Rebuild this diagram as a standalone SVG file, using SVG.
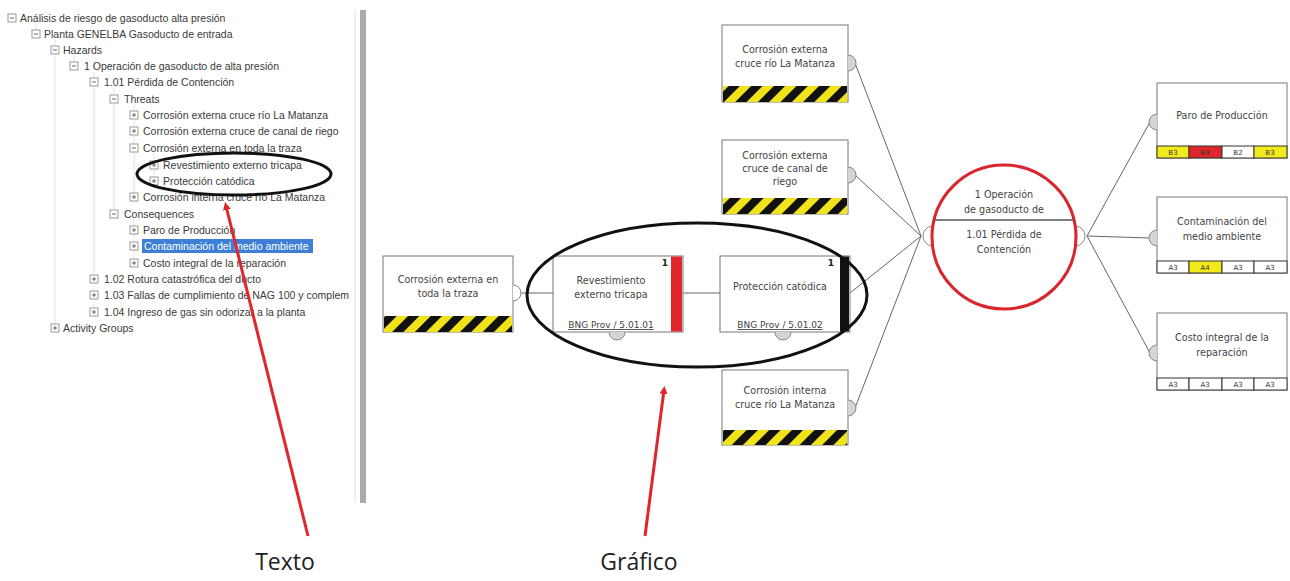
<svg xmlns="http://www.w3.org/2000/svg" width="1290" height="581" viewBox="0 0 1290 581">
<defs>
<pattern id="haz" width="16" height="16" patternUnits="userSpaceOnUse" patternTransform="rotate(45)">
<rect width="16" height="16" fill="#f0e31a"/>
<rect width="8" height="16" fill="#111"/>
</pattern>
<marker id="arr" markerWidth="8" markerHeight="8" refX="4" refY="4" orient="auto" markerUnits="userSpaceOnUse">
<path d="M0,0 L8,4 L0,8 z" fill="#e0262b"/>
</marker>
<style>
.tr{font-family:"Liberation Sans",Arial,sans-serif;font-size:10.5px;fill:#3a3a3a}
.ic{fill:#fff;stroke:#999;stroke-width:1}
.icl{stroke:#666;stroke-width:1}
.tl{stroke:#ccc;stroke-width:1;stroke-dasharray:1,1}
.box{fill:#fff;stroke:#777;stroke-width:1}
.bt{font-family:"DejaVu Sans",Verdana,sans-serif;font-size:9.6px;fill:#444;text-anchor:middle}
.ref{font-family:"DejaVu Sans",Verdana,sans-serif;font-size:9px;fill:#444;text-anchor:middle;text-decoration:underline}
.num{font-family:"DejaVu Sans",Verdana,sans-serif;font-size:9px;font-weight:bold;fill:#222;text-anchor:middle}
.con{stroke:#666;stroke-width:1;fill:none}
.sc{fill:#d4d4d4;stroke:#888;stroke-width:1}
.scw{fill:#fff;stroke:#888;stroke-width:1}
.cell{stroke:#333;stroke-width:1}
.ct{font-family:"DejaVu Sans",Verdana,sans-serif;font-size:7px;fill:#333;text-anchor:middle}
.mark{fill:none;stroke:#111;stroke-width:3}
.red{stroke:#e0262b;stroke-width:3;fill:none}
.lbl{font-family:"Open Sans","Noto Sans",sans-serif;font-size:23px;fill:#222;text-anchor:middle}
</style>
</defs>
<rect width="1290" height="581" fill="#fff"/>

<!-- tree panel -->
<g id="tree">
<rect x="360" y="10" width="6" height="493" fill="#aaa"/>
<line class="tl" x1="36" y1="24" x2="36" y2="34"/>
<line class="tl" x1="55" y1="40" x2="55" y2="328"/>
<line class="tl" x1="74" y1="56" x2="74" y2="66"/>
<line class="tl" x1="94" y1="72" x2="94" y2="312"/>
<line class="tl" x1="114" y1="88" x2="114" y2="214"/>
<line class="tl" x1="134" y1="104" x2="134" y2="197"/>
<line class="tl" x1="154" y1="154" x2="154" y2="181"/>
<line class="tl" x1="134" y1="220" x2="134" y2="263"/>

<rect class="ic" x="8" y="14" width="8" height="8"/><line class="icl" x1="10" y1="18" x2="14" y2="18"/>
<text class="tr" x="20" y="22">Análisis de riesgo de gasoducto alta presión</text>
<rect class="ic" x="32" y="30" width="8" height="8"/><line class="icl" x1="34" y1="34" x2="38" y2="34"/>
<text class="tr" x="44" y="38">Planta GENELBA Gasoducto de entrada</text>
<rect class="ic" x="51" y="46" width="8" height="8"/><line class="icl" x1="53" y1="50" x2="57" y2="50"/>
<text class="tr" x="63" y="54">Hazards</text>
<rect class="ic" x="70" y="62" width="8" height="8"/><line class="icl" x1="72" y1="66" x2="76" y2="66"/>
<text class="tr" x="84" y="70">1  Operación de gasoducto de alta presión</text>
<rect class="ic" x="90" y="78" width="8" height="8"/><line class="icl" x1="92" y1="82" x2="96" y2="82"/>
<text class="tr" x="104" y="86">1.01  Pérdida de Contención</text>
<rect class="ic" x="110" y="95" width="8" height="8"/><line class="icl" x1="112" y1="99" x2="116" y2="99"/>
<text class="tr" x="124" y="103">Threats</text>
<rect class="ic" x="130" y="111" width="8" height="8"/><line class="icl" x1="132" y1="115" x2="136" y2="115"/><line class="icl" x1="134" y1="113" x2="134" y2="117"/>
<text class="tr" x="143" y="119">Corrosión externa cruce río La Matanza</text>
<rect class="ic" x="130" y="127" width="8" height="8"/><line class="icl" x1="132" y1="131" x2="136" y2="131"/><line class="icl" x1="134" y1="129" x2="134" y2="133"/>
<text class="tr" x="143" y="135">Corrosión externa cruce de canal de riego</text>
<rect class="ic" x="130" y="144" width="8" height="8"/><line class="icl" x1="132" y1="148" x2="136" y2="148"/>
<text class="tr" x="143" y="152">Corrosión externa en toda la traza</text>
<rect class="ic" x="150" y="161" width="8" height="8"/><line class="icl" x1="152" y1="165" x2="156" y2="165"/><line class="icl" x1="154" y1="163" x2="154" y2="167"/>
<text class="tr" x="163" y="169">Revestimiento externo tricapa</text>
<rect class="ic" x="150" y="177" width="8" height="8"/><line class="icl" x1="152" y1="181" x2="156" y2="181"/><line class="icl" x1="154" y1="179" x2="154" y2="183"/>
<text class="tr" x="163" y="185">Protección catódica</text>
<rect class="ic" x="130" y="193" width="8" height="8"/><line class="icl" x1="132" y1="197" x2="136" y2="197"/><line class="icl" x1="134" y1="195" x2="134" y2="199"/>
<text class="tr" x="143" y="201">Corrosión interna cruce río La Matanza</text>
<rect class="ic" x="110" y="210" width="8" height="8"/><line class="icl" x1="112" y1="214" x2="116" y2="214"/>
<text class="tr" x="124" y="218">Consequences</text>
<rect class="ic" x="130" y="226" width="8" height="8"/><line class="icl" x1="132" y1="230" x2="136" y2="230"/><line class="icl" x1="134" y1="228" x2="134" y2="232"/>
<text class="tr" x="143" y="234">Paro de Producción</text>
<rect class="ic" x="130" y="242" width="8" height="8"/><line class="icl" x1="132" y1="246" x2="136" y2="246"/><line class="icl" x1="134" y1="244" x2="134" y2="248"/>
<rect x="142" y="239" width="171" height="14" fill="#3d7fd6"/>
<text class="tr" x="144" y="250" style="fill:#fff">Contaminación del medio ambiente</text>
<rect class="ic" x="130" y="259" width="8" height="8"/><line class="icl" x1="132" y1="263" x2="136" y2="263"/><line class="icl" x1="134" y1="261" x2="134" y2="265"/>
<text class="tr" x="143" y="267">Costo integral de la reparación</text>
<rect class="ic" x="90" y="275" width="8" height="8"/><line class="icl" x1="92" y1="279" x2="96" y2="279"/><line class="icl" x1="94" y1="277" x2="94" y2="281"/>
<text class="tr" x="104" y="283">1.02  Rotura catastrófica del ducto</text>
<rect class="ic" x="90" y="291" width="8" height="8"/><line class="icl" x1="92" y1="295" x2="96" y2="295"/><line class="icl" x1="94" y1="293" x2="94" y2="297"/>
<text class="tr" x="104" y="299">1.03  Fallas de cumplimiento de NAG 100 y complem</text>
<rect class="ic" x="90" y="308" width="8" height="8"/><line class="icl" x1="92" y1="312" x2="96" y2="312"/><line class="icl" x1="94" y1="310" x2="94" y2="314"/>
<text class="tr" x="104" y="316">1.04  Ingreso de gas sin odorizar a la planta</text>
<rect class="ic" x="51" y="324" width="8" height="8"/><line class="icl" x1="53" y1="328" x2="57" y2="328"/><line class="icl" x1="55" y1="326" x2="55" y2="330"/>
<text class="tr" x="63" y="332">Activity Groups</text>
</g>
<rect x="356" y="0" width="4" height="330" fill="#fff"/>
<line x1="355" y1="10" x2="355" y2="502" stroke="#ddd" stroke-width="1"/>

<!-- connectors -->
<g id="connectors">
<line class="con" x1="521" y1="293" x2="553" y2="293"/>
<line class="con" x1="683" y1="293" x2="720" y2="293"/>
<line class="con" x1="850" y1="293" x2="921" y2="236"/>
<line class="con" x1="855" y1="63" x2="921" y2="236"/>
<line class="con" x1="855" y1="175" x2="921" y2="236"/>
<line class="con" x1="855" y1="408" x2="921" y2="236"/>
<line class="con" x1="1087" y1="236" x2="1150" y2="122"/>
<line class="con" x1="1087" y1="236" x2="1150" y2="238"/>
<line class="con" x1="1087" y1="236" x2="1150" y2="353"/>
</g>

<!-- left threat -->
<g id="threat-traza">
<rect class="box" x="383" y="256" width="130" height="76"/>
<rect x="384" y="316" width="128" height="16" fill="url(#haz)"/>
<text class="bt" x="448" y="283">Corrosión externa en</text>
<text class="bt" x="448" y="297">toda la traza</text>
<path class="scw" d="M513,285 A8,8 0 0 1 513,301"/>
</g>

<g id="barrier-revestimiento">
<rect class="box" x="553" y="256" width="130" height="76"/>
<rect x="671" y="256.5" width="11" height="75" fill="#e0262b"/>
<text class="num" x="665" y="266">1</text>
<text class="bt" x="611" y="284">Revestimiento</text>
<text class="bt" x="611" y="298">externo tricapa</text>
<text class="ref" x="611" y="328">BNG Prov / 5.01.01</text>
<path class="sc" d="M609,332 A8,8 0 0 0 625,332"/>
</g>

<g id="barrier-proteccion">
<rect class="box" x="720" y="256" width="130" height="76"/>
<rect x="840" y="256.5" width="9" height="75" fill="#111"/>
<text class="num" x="831" y="266">1</text>
<text class="bt" x="780" y="290">Protección catódica</text>
<text class="ref" x="780" y="328">BNG Prov / 5.01.02</text>
<path class="sc" d="M775,332 A8,8 0 0 0 791,332"/>
</g>

<g id="threat-rio">
<rect class="box" x="722" y="25" width="126" height="77"/>
<rect x="723" y="86" width="124" height="16" fill="url(#haz)"/>
<text class="bt" x="785" y="53">Corrosión externa</text>
<text class="bt" x="785" y="67">cruce río La Matanza</text>
<path class="sc" d="M848,55 A8,8 0 0 1 848,71"/>
</g>

<g id="threat-canal">
<rect class="box" x="722" y="140" width="126" height="74"/>
<rect x="723" y="198" width="124" height="16" fill="url(#haz)"/>
<text class="bt" x="785" y="159">Corrosión externa</text>
<text class="bt" x="785" y="172">cruce de canal de</text>
<text class="bt" x="785" y="185">riego</text>
<path class="sc" d="M848,167 A8,8 0 0 1 848,183"/>
</g>

<g id="threat-interna">
<rect class="box" x="722" y="370" width="126" height="75"/>
<rect x="723" y="430" width="124" height="15" fill="url(#haz)"/>
<text class="bt" x="785" y="394">Corrosión interna</text>
<text class="bt" x="785" y="408">cruce río La Matanza</text>
<path class="sc" d="M848,400 A8,8 0 0 1 848,416"/>
</g>

<g id="top-event">
<path class="scw" d="M933,226 A10,10 0 0 0 933,246"/>
<path class="scw" d="M1075,226 A10,10 0 0 1 1075,246"/>
<circle cx="1004" cy="237" r="72" fill="#fff" stroke="#d9252b" stroke-width="3"/>
<line x1="934" y1="220" x2="1074" y2="220" stroke="#555" stroke-width="1.5"/>
<text class="bt" x="1004" y="198">1  Operación</text>
<text class="bt" x="1004" y="213">de gasoducto de</text>
<text class="bt" x="1004" y="238">1.01  Pérdida de</text>
<text class="bt" x="1004" y="253">Contención</text>
</g>

<g id="cons-paro">
<rect class="box" x="1157" y="83" width="130" height="75"/>
<text class="bt" x="1222" y="119">Paro de Producción</text>
<rect class="cell" x="1157" y="146" width="32" height="12" fill="#f2ea1a"/>
<rect class="cell" x="1189" y="146" width="33" height="12" fill="#e0262b"/>
<rect class="cell" x="1222" y="146" width="32" height="12" fill="#fff"/>
<rect class="cell" x="1254" y="146" width="33" height="12" fill="#f2ea1a"/>
<text class="ct" x="1173" y="155">B3</text>
<text class="ct" x="1205" y="155">B4</text>
<text class="ct" x="1238" y="155">B2</text>
<text class="ct" x="1270" y="155">B3</text>
<path class="sc" d="M1157,114 A8,8 0 0 0 1157,130"/>
</g>

<g id="cons-contaminacion">
<rect class="box" x="1157" y="197" width="130" height="76"/>
<text class="bt" x="1222" y="225">Contaminación del</text>
<text class="bt" x="1222" y="240">medio ambiente</text>
<rect class="cell" x="1157" y="261" width="32" height="12" fill="#fff"/>
<rect class="cell" x="1189" y="261" width="33" height="12" fill="#f2ea1a"/>
<rect class="cell" x="1222" y="261" width="32" height="12" fill="#fff"/>
<rect class="cell" x="1254" y="261" width="33" height="12" fill="#fff"/>
<text class="ct" x="1173" y="270">A3</text>
<text class="ct" x="1205" y="270">A4</text>
<text class="ct" x="1238" y="270">A3</text>
<text class="ct" x="1270" y="270">A3</text>
<path class="sc" d="M1157,230 A8,8 0 0 0 1157,246"/>
</g>

<g id="cons-costo">
<rect class="box" x="1157" y="313" width="130" height="77"/>
<text class="bt" x="1222" y="341">Costo integral de la</text>
<text class="bt" x="1222" y="356">reparación</text>
<rect class="cell" x="1157" y="378" width="32" height="12" fill="#fff"/>
<rect class="cell" x="1189" y="378" width="33" height="12" fill="#fff"/>
<rect class="cell" x="1222" y="378" width="32" height="12" fill="#fff"/>
<rect class="cell" x="1254" y="378" width="33" height="12" fill="#fff"/>
<text class="ct" x="1173" y="387">A3</text>
<text class="ct" x="1205" y="387">A3</text>
<text class="ct" x="1238" y="387">A3</text>
<text class="ct" x="1270" y="387">A3</text>
<path class="sc" d="M1157,345 A8,8 0 0 0 1157,361"/>
</g>

<!-- annotations -->
<g id="annotations">
<ellipse class="mark" cx="234" cy="174" rx="97" ry="21"/>
<ellipse class="mark" cx="697" cy="295" rx="170" ry="72"/>
<line class="red" x1="308" y1="536" x2="226" y2="206" marker-end="url(#arr)"/>
<line class="red" x1="645" y1="536" x2="664" y2="390" marker-end="url(#arr)"/>
<text class="lbl" x="285" y="570">Texto</text>
<text class="lbl" x="639" y="570">Gráfico</text>
</g>
</svg>
